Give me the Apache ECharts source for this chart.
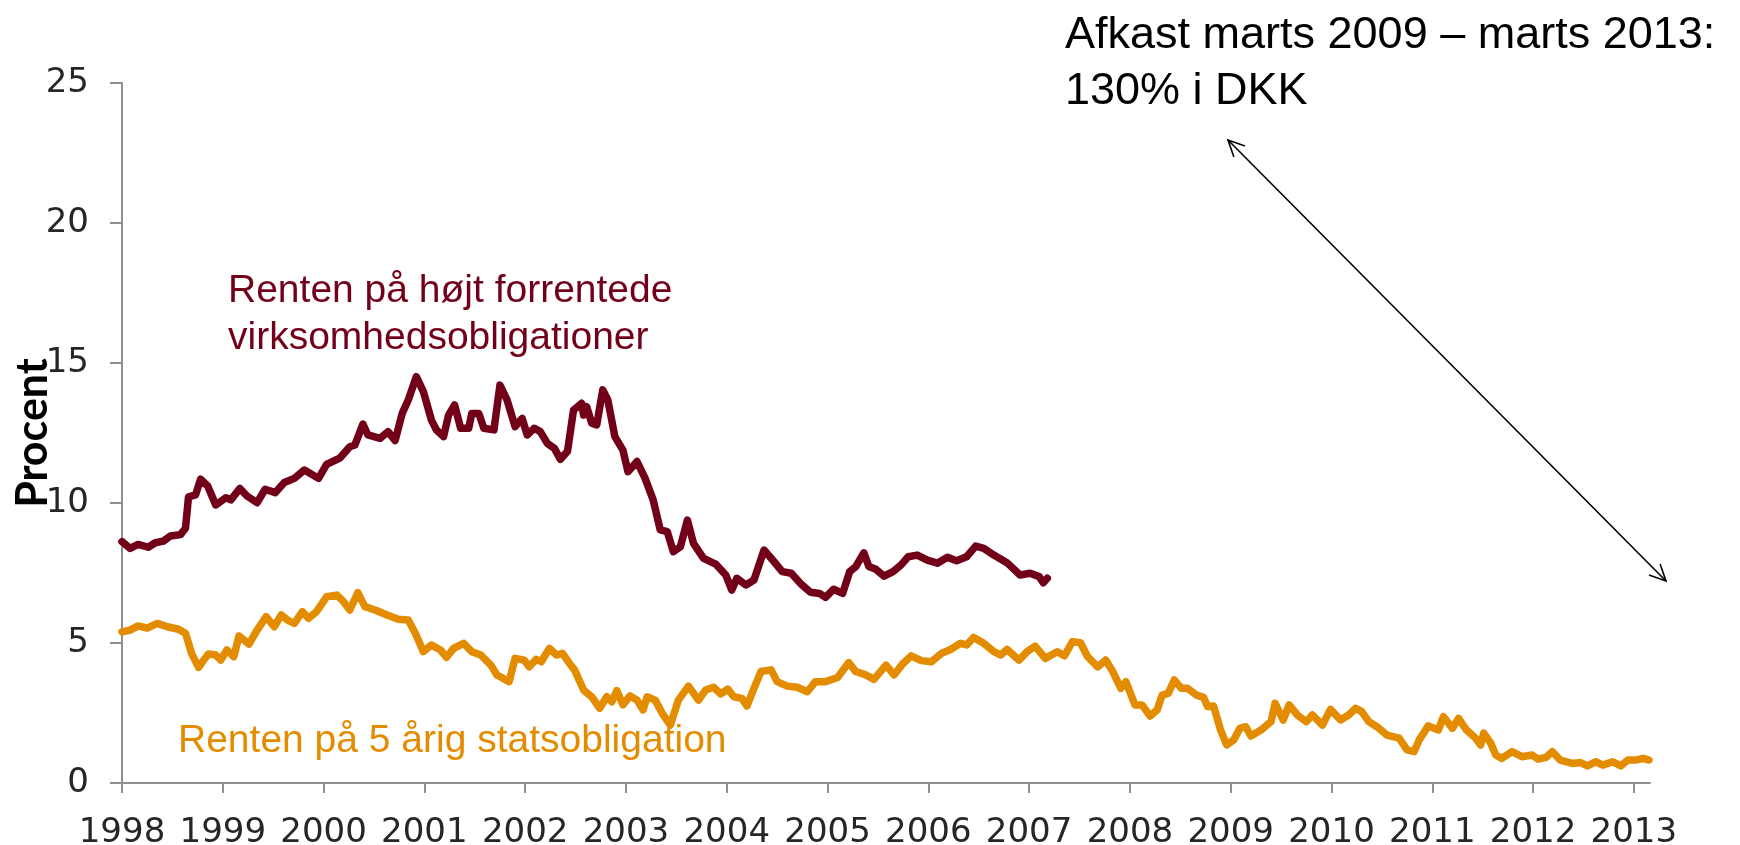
<!DOCTYPE html>
<html>
<head>
<meta charset="utf-8">
<title>Renter</title>
<script src="https://cdn.jsdelivr.net/npm/echarts@6/dist/echarts.min.js"></script>
<style>
html,body{margin:0;padding:0;background:#fff;}
#main{width:1740px;height:845px;}
</style>
</head>
<body>
<div id="main"></div>
<script>
// akse
var yearTicks=[1998,1999,2000,2001,2002,2003,2004,2005,2006,2007,2008,2009,2010,2011,2012,2013];
var yTicks=[0,5,10,15,20,25];

// rente paa hoejt forrentede virksomhedsobligationer
var hyYears=[1998.00,1998.08,1998.16,1998.26,1998.33,1998.41,1998.48,1998.58,1998.63,1998.66,1998.73,1998.78,1998.85,1998.93,
	1999.03,1999.08,1999.17,1999.24,1999.34,1999.42,1999.52,1999.61,1999.71,1999.81,1999.95,
	2000.03,2000.16,2000.26,2000.31,2000.39,2000.44,2000.56,2000.64,2000.71,2000.78,2000.84,2000.92,2000.99,
	2001.07,2001.12,2001.19,2001.24,2001.30,2001.36,2001.44,2001.47,2001.54,2001.59,2001.69,2001.75,2001.82,2001.90,2001.97,
	2002.02,2002.09,2002.15,2002.22,2002.29,2002.35,2002.42,2002.48,2002.56,2002.58,2002.61,2002.66,2002.71,2002.77,2002.82,2002.89,2002.97,
	2003.02,2003.11,2003.19,2003.27,2003.34,2003.41,2003.47,2003.54,2003.61,2003.67,2003.77,2003.89,2003.99,
	2004.05,2004.10,2004.19,2004.27,2004.37,2004.47,2004.55,2004.64,2004.73,2004.83,2004.92,2004.98,
	2005.06,2005.15,2005.22,2005.28,2005.36,2005.41,2005.48,2005.56,2005.65,2005.73,2005.80,2005.89,2005.99,
	2006.09,2006.19,2006.28,2006.38,2006.47,2006.55,2006.65,2006.78,2006.91,2007.01,2007.10,2007.14,2007.18];
var hyRates=[8.62,8.38,8.52,8.42,8.58,8.64,8.82,8.87,9.10,10.22,10.29,10.85,10.61,9.93,
	10.19,10.11,10.52,10.25,10.01,10.49,10.37,10.73,10.88,11.18,10.88,
	11.38,11.60,12.01,12.07,12.82,12.43,12.31,12.55,12.23,13.20,13.68,14.51,13.98,
	12.96,12.61,12.37,13.14,13.50,12.67,12.67,13.20,13.20,12.67,12.61,14.21,13.68,12.73,13.02,
	12.43,12.67,12.55,12.13,11.95,11.56,11.85,13.32,13.56,13.14,13.44,12.85,12.79,14.04,13.68,12.37,11.89,
	11.12,11.48,10.88,10.11,9.04,8.98,8.26,8.44,9.39,8.56,8.02,7.82,7.43,
	6.89,7.31,7.07,7.25,8.32,7.90,7.55,7.49,7.13,6.81,6.77,6.63,
	6.92,6.77,7.55,7.73,8.22,7.73,7.63,7.39,7.55,7.79,8.08,8.14,7.96,
	7.85,8.06,7.94,8.08,8.46,8.38,8.14,7.87,7.43,7.49,7.37,7.15,7.31];

// rente paa 5 aarig statsobligation
var govYears=[1998.00,1998.08,1998.16,1998.25,1998.35,1998.45,1998.56,1998.63,1998.69,1998.76,1998.81,1998.86,1998.93,1998.98,
	1999.04,1999.11,1999.16,1999.21,1999.26,1999.33,1999.43,1999.51,1999.58,1999.65,1999.71,1999.79,1999.85,1999.93,
	2000.03,2000.13,2000.19,2000.26,2000.34,2000.41,2000.51,2000.63,2000.74,2000.84,2000.91,2000.99,
	2001.07,2001.16,2001.22,2001.29,2001.39,2001.47,2001.56,2001.66,2001.72,2001.84,2001.90,2001.99,
	2002.04,2002.11,2002.16,2002.24,2002.31,2002.37,2002.44,2002.49,2002.58,2002.66,2002.74,2002.81,2002.86,2002.91,2002.97,
	2003.04,2003.11,2003.17,2003.21,2003.29,2003.36,2003.44,2003.52,2003.62,2003.72,2003.79,2003.87,2003.94,
	2004.01,2004.07,2004.15,2004.20,2004.27,2004.34,2004.44,2004.50,2004.60,2004.70,2004.80,2004.88,2004.98,
	2005.10,2005.21,2005.28,2005.38,2005.46,2005.58,2005.66,2005.75,2005.83,2005.93,
	2006.03,2006.13,2006.22,2006.32,2006.38,2006.45,2006.55,2006.65,2006.72,2006.78,2006.90,2006.98,
	2007.06,2007.16,2007.28,2007.35,2007.43,2007.51,2007.58,2007.68,2007.76,2007.83,2007.91,2007.96,
	2008.05,2008.12,2008.20,2008.27,2008.32,2008.38,2008.44,2008.51,2008.57,2008.66,2008.73,2008.77,2008.83,2008.90,2008.96,
	2009.03,2009.09,2009.15,2009.20,2009.30,2009.40,2009.44,2009.52,2009.58,2009.66,2009.75,2009.81,2009.91,2009.99,
	2010.09,2010.17,2010.24,2010.30,2010.37,2010.45,2010.55,2010.67,2010.75,2010.82,2010.87,2010.96,
	2011.06,2011.11,2011.20,2011.26,2011.34,2011.43,2011.48,2011.51,2011.58,2011.63,2011.69,2011.79,2011.89,2011.99,
	2012.05,2012.13,2012.19,2012.27,2012.39,2012.47,2012.54,2012.62,2012.69,2012.79,2012.87,2012.94,
	2013.02,2013.09,2013.15];
var govRates=[5.40,5.46,5.61,5.53,5.70,5.58,5.49,5.35,4.63,4.13,4.39,4.61,4.57,4.39,
	4.75,4.51,5.25,5.11,4.96,5.40,5.94,5.58,6.00,5.80,5.70,6.12,5.88,6.12,
	6.65,6.71,6.51,6.18,6.80,6.30,6.18,6.00,5.85,5.82,5.35,4.69,
	4.93,4.75,4.49,4.81,4.99,4.69,4.57,4.21,3.86,3.62,4.45,4.39,
	4.15,4.42,4.33,4.81,4.57,4.63,4.27,4.04,3.32,3.08,2.67,3.08,2.90,3.30,2.79,
	3.11,2.96,2.61,3.08,2.96,2.49,2.07,2.96,3.46,2.96,3.32,3.42,3.18,
	3.35,3.08,3.02,2.75,3.38,3.98,4.04,3.62,3.46,3.42,3.26,3.62,3.62,
	3.77,4.30,3.98,3.86,3.70,4.21,3.86,4.27,4.54,4.37,
	4.33,4.63,4.77,4.99,4.93,5.20,4.99,4.69,4.57,4.77,4.39,4.69,
	4.89,4.45,4.69,4.54,5.05,5.01,4.51,4.15,4.39,3.98,3.38,3.62,
	2.79,2.79,2.39,2.61,3.14,3.20,3.68,3.38,3.38,3.14,3.06,2.73,2.75,1.89,1.36,
	1.54,1.95,2.01,1.68,1.89,2.19,2.85,2.25,2.79,2.43,2.19,2.43,2.07,2.63,
	2.25,2.43,2.67,2.55,2.19,2.01,1.71,1.60,1.18,1.12,1.54,2.04,
	1.89,2.37,1.95,2.31,1.89,1.60,1.36,1.78,1.42,1.00,0.88,1.12,0.94,1.00,
	0.85,0.92,1.12,0.82,0.70,0.73,0.61,0.76,0.64,0.76,0.61,0.82,
	0.82,0.88,0.82];

function pairs(xs,ys){
	var out=[];
	for(var i=0;i<xs.length;i++){
		out.push([xs[i],ys[i]]);
	}
	return out;
}

// dobbeltpil til afkast-teksten
function arrowGraphic(x1,y1,x2,y2){
	var len=18, spread=Math.PI/7;
	var a=Math.atan2(y2-y1,x2-x1);
	var head=function(x,y,ang){
		return [[x+len*Math.cos(ang+spread),y+len*Math.sin(ang+spread)],[x,y],[x+len*Math.cos(ang-spread),y+len*Math.sin(ang-spread)]];
	};
	var st={stroke:'#000',lineWidth:1.6,fill:null};
	return [
		{type:'line',shape:{x1:x1,y1:y1,x2:x2,y2:y2},style:st,silent:true},
		{type:'polyline',shape:{points:head(x1,y1,a)},style:st,silent:true},
		{type:'polyline',shape:{points:head(x2,y2,a+Math.PI)},style:st,silent:true}
	];
}

var mychart=echarts.init(document.getElementById('main'));
var axisFont='"DejaVu Sans", sans-serif';
var option={
	animation:false,
	backgroundColor:'#fff',
	grid:{left:122,right:90,top:83,bottom:62,containLabel:false,outerBoundsMode:'none'},
	xAxis:{
		type:'value',
		min:1998,
		max:2013.16,
		interval:1,
		splitLine:{show:false},
		axisLine:{show:true,lineStyle:{color:'#8f8f8f',width:2}},
		axisTick:{show:true,length:10,customValues:yearTicks,lineStyle:{color:'#8f8f8f',width:2}},
		axisLabel:{
			customValues:yearTicks,
			margin:33,
			fontFamily:axisFont,
			fontSize:34,
			color:'#262626',
			formatter:function(v){ return (v%1===0)?String(v):''; }
		}
	},
	yAxis:{
		type:'value',
		min:0,
		max:25,
		interval:5,
		name:'Procent',
		nameLocation:'middle',
		nameGap:67,
		nameMoveOverlap:false,
		nameTextStyle:{fontFamily:'Lato, sans-serif',fontWeight:'bold',fontSize:43,color:'#000'},
		splitLine:{show:false},
		axisLine:{show:true,lineStyle:{color:'#8f8f8f',width:2}},
		axisTick:{show:true,length:12,lineStyle:{color:'#8f8f8f',width:2}},
		axisLabel:{margin:33,fontFamily:axisFont,fontSize:34,color:'#262626'}
	},
	series:[
		{
			name:'Renten på højt forrentede virksomhedsobligationer',
			type:'line',
			data:pairs(hyYears,hyRates),
			showSymbol:false,
			smooth:false,
			lineStyle:{color:'#730019',width:7.5,join:'round',cap:'round'}
		},
		{
			name:'Renten på 5 årig statsobligation',
			type:'line',
			data:pairs(govYears,govRates),
			showSymbol:false,
			smooth:false,
			lineStyle:{color:'#e38c00',width:7.5,join:'round',cap:'round'}
		}
	],
	graphic:[
		{type:'text',x:228,y:268,silent:true,style:{
			text:'Renten på højt forrentede\nvirksomhedsobligationer',
			font:'39px "Liberation Sans", Arial, sans-serif',fill:'#730019',lineHeight:46.5,verticalAlign:'top'}},
		{type:'text',x:178,y:741,silent:true,style:{
			text:'Renten på 5 årig statsobligation',
			font:'39px "Liberation Sans", Arial, sans-serif',fill:'#e38c00',verticalAlign:'middle'}},
		{type:'text',x:1065,y:8,silent:true,style:{
			text:'Afkast marts 2009 – marts 2013:\n130% i DKK',
			font:'45px "Liberation Sans", Arial, sans-serif',fill:'#000',lineHeight:56,verticalAlign:'top'}}
	].concat(arrowGraphic(1228,140,1666,581))
};
mychart.setOption(option);
</script>
</body>
</html>
